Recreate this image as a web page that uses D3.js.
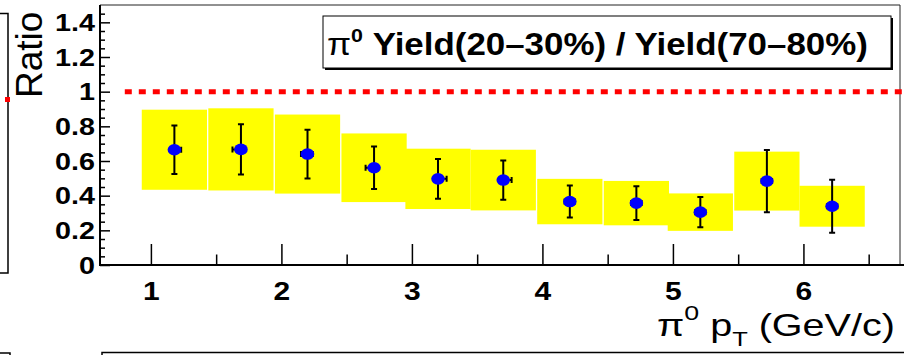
<!DOCTYPE html>
<html>
<head>
<meta charset="utf-8">
<script src="https://cdn.jsdelivr.net/npm/d3@7"></script>
<style>
  html, body { margin: 0; padding: 0; background: #fff; }
  svg { display: block; }
  text { font-family: "Liberation Sans", Arial, Helvetica, sans-serif; }
</style>
</head>
<body>
<svg id="chart" width="904" height="355"></svg>
<script>
// pi0 yield ratio, central (20-30%) over peripheral (70-80%), vs pT
const pt       = [1.18, 1.69, 2.20, 2.71, 3.20, 3.70, 4.21, 4.72, 5.21, 5.72, 6.22];
const ratio    = [0.665, 0.667, 0.640, 0.561, 0.497, 0.490, 0.366, 0.357, 0.305, 0.484, 0.339];
const statErr  = [0.140, 0.145, 0.141, 0.123, 0.115, 0.113, 0.092, 0.097, 0.087, 0.180, 0.153];
const sysErr   = [0.231, 0.237, 0.228, 0.198, 0.174, 0.175, 0.131, 0.128, 0.108, 0.170, 0.118];
const ptErrLo  = [0.030, 0.065, 0.050, 0.065, 0.030, 0.030, 0.040, 0.040, 0.040, 0.040, 0.040];
const ptErrHi  = [0.052, 0.030, 0.040, 0.030, 0.066, 0.064, 0.040, 0.040, 0.040, 0.040, 0.040];
const sysHalfWidth = 0.25;

const xMajorTicks = [1, 2, 3, 4, 5, 6];
const xMinorTicks = [1.5, 2.5, 3.5, 4.5, 5.5, 6.5];
const yMajorTicks = [0, 0.2, 0.4, 0.6, 0.8, 1.0, 1.2, 1.4];
const yTickLabels = ["0", "0.2", "0.4", "0.6", "0.8", "1", "1.2", "1.4"];
const yMinorTicks = d3.range(0, 1.5, 0.05).filter(v => Math.abs(v * 5 - Math.round(v * 5)) > 1e-6);
const unityLine = { from: 0.8, to: 7.0, value: 1.0 };

const svg = d3.select("#chart");
const frame = { left: 100, right: 900, top: 5, bottom: 265 };

const x = d3.scaleLinear().domain([0.61, 6.74]).range([frame.left, frame.right]);
const y = d3.scaleLinear().domain([0, 1.5]).range([frame.bottom, frame.top]);

svg.append("rect").attr("width", 904).attr("height", 355).attr("fill", "#fff");

// neighbouring pads at the edges of the canvas
const edge = svg.append("g").attr("stroke", "#000").attr("fill", "none").attr("stroke-width", 1.5);
edge.append("path").attr("d", "M0,13.5H8V273H0");
edge.append("path").attr("d", "M0,353H10V356");
edge.append("path").attr("d", "M904,352.5H102V356");
svg.append("rect").attr("x", 5).attr("y", 97).attr("width", 5).attr("height", 5).attr("fill", "#ff0000");

// thin pad border (top and right)
svg.append("path")
  .attr("d", `M${frame.left},${frame.top}H${frame.right}V${frame.bottom}`)
  .attr("fill", "none").attr("stroke", "#222").attr("stroke-width", 1);

const plot = svg.append("g");

// systematic-error boxes
plot.selectAll("rect.sys")
  .data(pt.map((p, i) => ({ p, v: ratio[i], s: sysErr[i] })))
  .join("rect")
  .attr("class", "sys")
  .attr("x", d => x(d.p - sysHalfWidth))
  .attr("width", d => x(d.p + sysHalfWidth) - x(d.p - sysHalfWidth))
  .attr("y", d => y(d.v + d.s))
  .attr("height", d => y(d.v - d.s) - y(d.v + d.s))
  .attr("fill", "#ffff00");

// dashed unity reference line
plot.append("line")
  .attr("x1", x(unityLine.from)).attr("x2", x(unityLine.to))
  .attr("y1", y(unityLine.value)).attr("y2", y(unityLine.value))
  .attr("stroke", "#ff0000").attr("stroke-width", 5)
  .attr("stroke-dasharray", "7 7");

// statistical error bars
const pts = pt.map((p, i) => ({ p, v: ratio[i], e: statErr[i], lo: ptErrLo[i], hi: ptErrHi[i] }));
const bars = plot.append("g").attr("stroke", "#000").attr("stroke-width", 2).attr("fill", "none");
const capW = 3;
bars.selectAll("path.err")
  .data(pts)
  .join("path")
  .attr("class", "err")
  .attr("d", d => {
    const cx = x(d.p), yt = y(d.v + d.e), yb = y(d.v - d.e);
    const xl = x(d.p - d.lo), xr = x(d.p + d.hi), cy = y(d.v);
    return `M${cx},${yt}V${yb}M${cx - capW},${yt}H${cx + capW}M${cx - capW},${yb}H${cx + capW}` +
           `M${xl},${cy}H${xr}M${xl},${cy - 3}V${cy + 3}M${xr},${cy - 3}V${cy + 3}`;
  });

// markers
plot.selectAll("ellipse.pt")
  .data(pts)
  .join("ellipse")
  .attr("class", "pt")
  .attr("cx", d => x(d.p)).attr("cy", d => y(d.v))
  .attr("rx", 6.8).attr("ry", 5.8)
  .attr("fill", "#0000ff");

// axes
const bold = (sel, size) => sel
  .attr("font-family", "'Liberation Sans', Arial, sans-serif")
  .attr("font-weight", "bold").attr("font-size", size).attr("fill", "#000");

const xAxis = svg.append("g").attr("transform", `translate(0,${frame.bottom})`)
  .call(d3.axisBottom(x).tickValues(xMajorTicks).tickSize(-21).tickSizeOuter(0).tickFormat(d3.format("d")));
xAxis.select(".domain").remove();
xAxis.selectAll(".tick line").attr("stroke", "#000").attr("stroke-width", 1.5);
bold(xAxis.selectAll(".tick text"), 25)
  .attr("y", 0).attr("dy", null)
  .attr("transform", "translate(0,35) scale(1.2,1)");

const xMinor = svg.append("g").attr("transform", `translate(0,${frame.bottom})`)
  .call(d3.axisBottom(x).tickValues(xMinorTicks).tickSize(-10.5).tickSizeOuter(0).tickFormat(""));
xMinor.select(".domain").remove();
xMinor.selectAll(".tick line").attr("stroke", "#000").attr("stroke-width", 1.5);

const yAxis = svg.append("g").attr("transform", `translate(${frame.left},0)`)
  .call(d3.axisLeft(y).tickValues(yMajorTicks).tickSize(-10).tickSizeOuter(0)
    .tickFormat((d, i) => yTickLabels[i]));
yAxis.select(".domain").remove();
yAxis.selectAll(".tick line").attr("stroke", "#000").attr("stroke-width", 1.5);
bold(yAxis.selectAll(".tick text"), 23)
  .attr("x", 0).attr("dy", "0.36em")
  .attr("transform", "translate(-5,0) scale(1.25,1)");

const yMinor = svg.append("g").attr("transform", `translate(${frame.left},0)`)
  .call(d3.axisLeft(y).tickValues(yMinorTicks).tickSize(-5).tickSizeOuter(0).tickFormat(""));
yMinor.select(".domain").remove();
yMinor.selectAll(".tick line").attr("stroke", "#000").attr("stroke-width", 1.5);

// axis lines
svg.append("path")
  .attr("d", `M${frame.left},${frame.top}V${frame.bottom}H904`)
  .attr("fill", "none").attr("stroke", "#000").attr("stroke-width", 2);

// stretch a text horizontally so that it spans the wanted width from its anchor
function fitWidth(t, ax, ay, width, anchor) {
  const w = t.node().getComputedTextLength();
  const sx = width / w;
  t.attr("x", 0).attr("y", 0).attr("text-anchor", anchor)
   .attr("transform", `translate(${ax},${ay}) scale(${sx},1)`);
}

// y title
svg.append("text")
  .attr("transform", "translate(42,98) rotate(-90)")
  .attr("font-size", 37).attr("fill", "#000")
  .text("Ratio");

// x title
const xt = svg.append("text").attr("font-size", 31).attr("fill", "#000");
xt.append("tspan").text("π");
xt.append("tspan").attr("font-size", 21).attr("dy", -16).text("0");
xt.append("tspan").attr("dy", 16).text(" p");
xt.append("tspan").attr("font-size", 20).attr("dy", 10).text("T");
xt.append("tspan").attr("dy", -10).text(" (GeV/c)");
fitWidth(xt, 657, 336, 238, "start");

// legend box
const lg = { x: 323, y: 16, w: 568, h: 52 };
svg.append("rect").attr("x", lg.x + 2).attr("y", lg.y + 2).attr("width", lg.w).attr("height", lg.h).attr("fill", "#000");
svg.append("rect").attr("x", lg.x).attr("y", lg.y).attr("width", lg.w).attr("height", lg.h)
  .attr("fill", "#fff").attr("stroke", "#000").attr("stroke-width", 1);
const lt = svg.append("text").attr("font-size", 31).attr("font-weight", "bold").attr("fill", "#000");
lt.append("tspan").attr("font-weight", "normal").text("π");
lt.append("tspan").attr("font-size", 19).attr("dy", -13).text("0");
lt.append("tspan").attr("dy", 13).text(" Yield(20–30%) / Yield(70–80%)");
fitWidth(lt, 327, 55, 541, "start");
</script>
</body>
</html>
